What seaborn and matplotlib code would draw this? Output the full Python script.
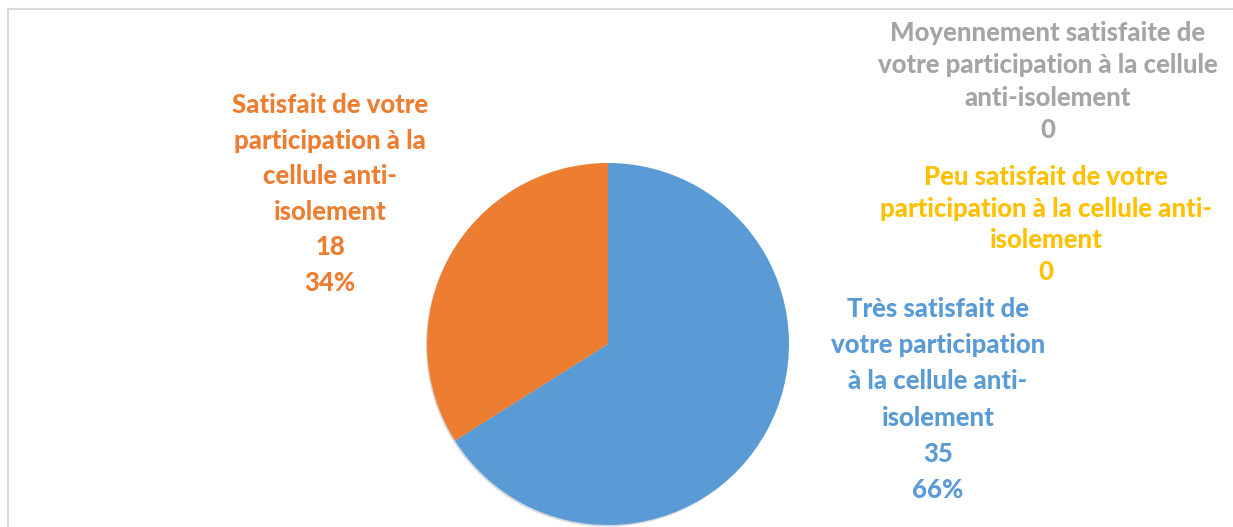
import matplotlib
matplotlib.use("Agg")
import matplotlib.pyplot as plt
import matplotlib.patches as mpatches
import seaborn as sns

# Data
categories = [
    "Très satisfait de\nvotre participation\nà la cellule anti-\nisolement",
    "Satisfait de votre\nparticipation à la\ncellule anti-\nisolement",
    "Peu satisfait de votre\nparticipation à la cellule anti-\nisolement",
    "Moyennement satisfaite de\nvotre participation à la cellule\nanti-isolement",
]
values = [35, 18, 0, 0]
colors_hex = ["#5B9BD5", "#ED7D31", "#FFC000", "#A5A5A5"]

sns.set_theme(style="white")
plt.rcParams["font.family"] = ["Lato", "DejaVu Sans"]
palette = sns.color_palette(colors_hex)

W, H = 1233, 527
fig = plt.figure(figsize=(W / 100, H / 100), dpi=100)
ax = fig.add_axes([0, 0, 1, 1])
ax.set_xlim(0, W)
ax.set_ylim(0, H)
ax.set_aspect("equal")
ax.axis("off")

# Pie (only non-zero slices are visible)
ax.pie(values, colors=palette, startangle=90, counterclock=False,
       center=(608, H - 344), radius=181, frame=True,
       wedgeprops=dict(linewidth=0),
       shadow=dict(ox=-0.8, oy=-1.2, alpha=0.18))
ax.set_xlim(0, W)
ax.set_ylim(0, H)
ax.axis("off")

total = sum(values)
# label layout: (center x, first line y, line spacing)
layout = [
    (938, 309, 36.2),
    (330, 105, 35.6),
    (1046, 177, 31.7),
    (1048, 33, 32.3),
]
for cat, v, col, (cx, y0, sp) in zip(categories, values, palette, layout):
    lines = cat.split("\n") + [str(v)]
    if v > 0:
        lines.append(f"{round(100 * v / total)}%")
    for i, ln in enumerate(lines):
        ax.text(cx, H - (y0 + i * sp), ln, ha="center", va="center",
                fontsize=18.5, fontweight="black", color=col)

# chart border
fig.patches.append(mpatches.Rectangle((7.5 / W, -0.1), 1.2, (H - 8.5) / H + 0.1,
                                      transform=fig.transFigure, fill=False,
                                      edgecolor="#D9D9D9", linewidth=1.5))

fig.savefig("out.png", dpi=100, facecolor="white")
